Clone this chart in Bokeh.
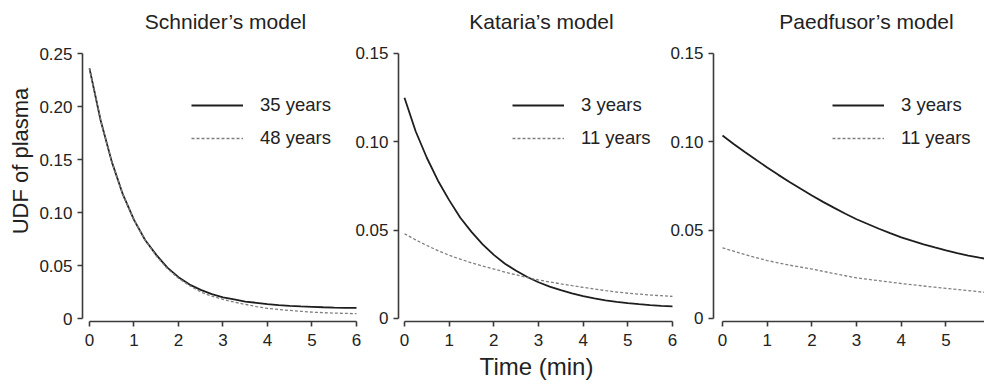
from bokeh.plotting import figure
from bokeh.layouts import row
from bokeh.models import FixedTicker, Legend, LegendItem, Label, Range1d
from bokeh.embed import file_html
from bokeh.resources import INLINE

# ---------------- data ----------------
time_min = [0, 0.25, 0.5, 0.75, 1, 1.25, 1.5, 1.75, 2, 2.25, 2.5, 2.75, 3,
            3.25, 3.5, 3.75, 4, 4.25, 4.5, 4.75, 5, 5.25, 5.5, 5.75, 6]

schnider_35y = [0.236, 0.187, 0.148, 0.117, 0.093, 0.074, 0.060, 0.048, 0.039,
                0.032, 0.027, 0.023, 0.020, 0.018, 0.016, 0.0148, 0.0136, 0.0127,
                0.0120, 0.0114, 0.0110, 0.0106, 0.0103, 0.0101, 0.0100]
schnider_48y = [0.236, 0.187, 0.148, 0.117, 0.093, 0.074, 0.059, 0.047, 0.038,
                0.031, 0.025, 0.021, 0.018, 0.0155, 0.0133, 0.0113, 0.0095, 0.0085,
                0.0076, 0.0068, 0.0060, 0.0055, 0.0051, 0.0048, 0.0046]

kataria_3y = [0.125, 0.106, 0.091, 0.078, 0.067, 0.057, 0.049, 0.042, 0.036,
              0.031, 0.027, 0.0235, 0.0205, 0.018, 0.016, 0.0142, 0.0127, 0.0114,
              0.0103, 0.0094, 0.0087, 0.0081, 0.0076, 0.0072, 0.0069]
kataria_11y = [0.048, 0.0445, 0.0413, 0.0384, 0.0358, 0.0336, 0.0315, 0.0297, 0.028,
               0.0263, 0.0247, 0.0232, 0.0218, 0.0207, 0.0196, 0.0186, 0.0176, 0.0167,
               0.0158, 0.015, 0.0143, 0.0138, 0.0133, 0.0129, 0.0125]

paedfusor_3y = [0.1036, 0.0988, 0.0942, 0.0898, 0.0855, 0.0813, 0.0773, 0.0734, 0.0696,
                0.066, 0.0626, 0.0593, 0.0562, 0.0535, 0.0508, 0.0483, 0.0459, 0.0439,
                0.042, 0.0402, 0.0385, 0.037, 0.0356, 0.0344, 0.0333]
paedfusor_11y = [0.0400, 0.0381, 0.0362, 0.0345, 0.0328, 0.0315, 0.0302, 0.0291, 0.0280,
                 0.0267, 0.0254, 0.0242, 0.0230, 0.0222, 0.0214, 0.0206, 0.0198, 0.0191,
                 0.0184, 0.0177, 0.0170, 0.0164, 0.0158, 0.0151, 0.0145]

panel_titles = ["Schnider\u2019s model", "Kataria\u2019s model", "Paedfusor\u2019s model"]
legend_labels_schnider = ["35 years", "48 years"]
legend_labels_kataria = ["3 years", "11 years"]
legend_labels_paedfusor = ["3 years", "11 years"]

x_ticks = [0, 1, 2, 3, 4, 5, 6]
y_ticks_schnider = [0, 0.05, 0.10, 0.15, 0.20, 0.25]
y_tick_labels_schnider = ["0", "0.05", "0.10", "0.15", "0.20", "0.25"]
y_ticks_other = [0, 0.05, 0.10, 0.15]
y_tick_labels_other = ["0", "0.05", "0.10", "0.15"]

y_axis_label = "UDF of plasma"
x_axis_label = "Time (min)"

FONT = "Liberation Sans"
TXT = "#222222"
FRAME_H = 321          # frame reaches the top of the page; axes are bounded


def make_panel(title, series_a, series_b, labels, y_ticks, y_labels,
               x_range, y_range, border_left, border_right, frame_w,
               title_x, legend_loc, margin_left,
               ylabel=None, xlabel=None):
    p = figure(title=None, frame_width=frame_w, frame_height=FRAME_H,
               min_border_left=border_left, min_border_right=border_right,
               min_border_top=0, min_border_bottom=64,
               x_range=Range1d(*x_range), y_range=Range1d(*y_range),
               output_backend="svg", toolbar_location=None,
               margin=(0, 0, 0, margin_left))
    p.outline_line_color = None
    p.background_fill_color = None
    p.border_fill_color = None
    p.grid.visible = False

    # panel title, in screen units from the frame's lower-left corner
    p.add_layout(Label(text=title, x=title_x, y=FRAME_H - 21,
                       x_units="screen", y_units="screen",
                       text_align="center", text_baseline="alphabetic",
                       text_font=FONT, text_font_size="21px",
                       text_color=TXT))

    r1 = p.line(time_min, series_a, line_color="#1e1e1e", line_width=1.8)
    r2 = p.line(time_min, series_b, line_color="#808080", line_width=1.3,
                line_dash="3 2")

    for ax in (p.xaxis[0], p.yaxis[0]):
        ax.axis_line_color = "#3a3a3a"
        ax.axis_line_width = 1.6
        ax.major_tick_line_color = "#3a3a3a"
        ax.major_tick_line_width = 1.6
        ax.major_tick_in = 0
        ax.major_tick_out = 5
        ax.minor_tick_in = 0
        ax.minor_tick_out = 0
        ax.major_label_text_font = FONT
        ax.major_label_text_font_size = "17px"
        ax.major_label_text_color = TXT
        ax.axis_label_text_font = FONT
        ax.axis_label_text_font_style = "normal"
        ax.axis_label_text_color = TXT

    p.xaxis[0].ticker = FixedTicker(ticks=x_ticks)
    p.xaxis[0].bounds = (x_ticks[0], x_ticks[-1])
    p.xaxis[0].major_label_standoff = 7
    p.yaxis[0].ticker = FixedTicker(ticks=y_ticks)
    p.yaxis[0].bounds = (y_ticks[0], y_ticks[-1])
    p.yaxis[0].major_label_overrides = {t: s for t, s in zip(y_ticks, y_labels)}
    p.yaxis[0].major_label_standoff = 5

    if ylabel:
        p.yaxis[0].axis_label = ylabel
        p.yaxis[0].axis_label_text_font_size = "22px"
        p.yaxis[0].axis_label_standoff = 3
    if xlabel:
        p.xaxis[0].axis_label = xlabel
        p.xaxis[0].axis_label_text_font_size = "24px"
        p.xaxis[0].axis_label_standoff = 4

    legend = Legend(items=[LegendItem(label=labels[0], renderers=[r1]),
                           LegendItem(label=labels[1], renderers=[r2])],
                    location=legend_loc, orientation="vertical",
                    border_line_color=None, background_fill_alpha=0,
                    padding=0, margin=0, spacing=9,
                    glyph_width=52, glyph_height=24, label_height=24,
                    label_standoff=17, label_text_font=FONT,
                    label_text_font_size="18.5px", label_text_color=TXT)
    p.add_layout(legend)
    return p


# y ranges: 0 sits 3 px above the frame bottom, top of the frame is the page top
p1 = make_panel(panel_titles[0], schnider_35y, schnider_48y, legend_labels_schnider,
                y_ticks_schnider, y_tick_labels_schnider,
                (-0.157, 6.045), (-0.00283, 0.3000), 82, 12, 276,
                143, (109, 171), 0, ylabel=y_axis_label)
p2 = make_panel(panel_titles[1], kataria_3y, kataria_11y, legend_labels_kataria,
                y_ticks_other, y_tick_labels_other,
                (-0.134, 6.045), (-0.0017, 0.1800), 58, 16, 276,
                143, (114, 171), -30, xlabel=x_axis_label)
p3 = make_panel(panel_titles[2], paedfusor_3y, paedfusor_11y, legend_labels_paedfusor,
                y_ticks_other, y_tick_labels_other,
                (-0.201, 5.862), (-0.0017, 0.1800), 53, 0, 271,
                153, (119, 171), -30)

layout = row(p1, p2, p3, spacing=0)

open("out.html", "w").write(file_html(layout, INLINE))
